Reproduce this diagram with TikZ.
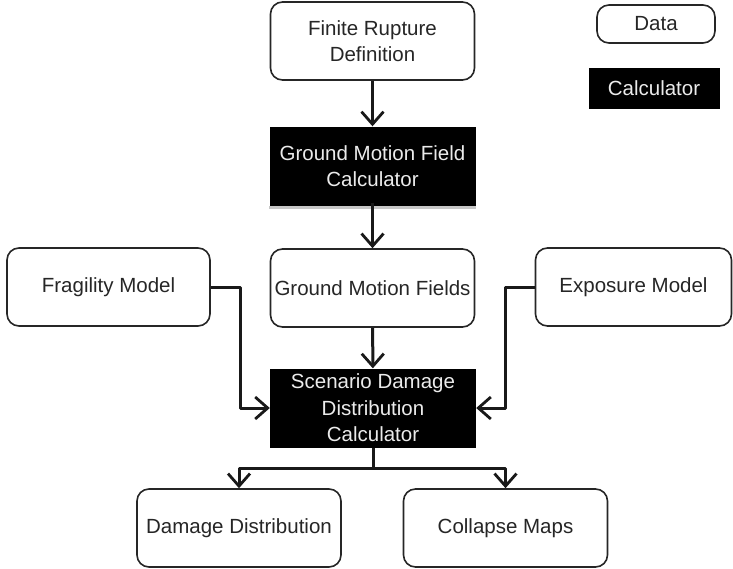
\documentclass[tikz,border=0pt]{standalone}
\usepackage{fontspec}
\setmainfont{Liberation Sans}
\usetikzlibrary{arrows.meta}

\begin{document}
\begin{tikzpicture}[x=1pt, y=-1pt, line join=round,
		every node/.style={font=\fontsize{20.5}{26.5}\selectfont, align=center},
		data/.style={draw=black!85, line width=1.6pt, rounded corners=12pt,
			fill=white, text=black!85, minimum width=204pt, minimum height=78pt},
		calc/.style={fill=black, text=white!92!black, inner sep=0pt,
			minimum width=206pt, minimum height=79pt},
		link/.style={draw=black!90, line width=3pt,
			-{Straight Barb[length=12.5pt, width=22pt, line width=2.8pt]}}]
	\useasboundingbox (0,0) rectangle (733,568);

	% legend
	\node[data, minimum width=118pt, minimum height=38pt] (key data) at (656,24) {Data};
	\node[calc, minimum width=131pt, minimum height=41pt] (key calc) at (654,88) {Calculator};

	% main chain
	\node[data] (rupture) at (372.5,41) {Finite Rupture\\Definition};
	\node[calc] (gmfcalc) at (372.5,166) {Ground Motion Field\\Calculator};
	\fill[black!22] (gmfcalc.south west) rectangle ([yshift=-3pt]gmfcalc.south east);
	\node[data] (gmfields) at (372.5,288) {Ground Motion Fields};
	\node[calc] (sdcalc) at (373,408) {Scenario Damage\\Distribution\\Calculator};

	% side inputs
	\node[data, minimum width=203pt] (fragility) at (108.5,287) {Fragility Model};
	\node[data, minimum width=196pt] (exposure) at (633.5,287) {Exposure Model};

	% outputs
	\node[data] (damage) at (239,528) {Damage Distribution};
	\node[data] (collapse) at (505.5,528) {Collapse Maps};

	\coordinate (fragbend) at (240,287);
	\coordinate (expbend) at (505,287);
	\coordinate (split) at (373,468);

	\draw[link] (rupture) -- (gmfcalc);
	\draw[link] ([yshift=3pt]gmfcalc.south) -- (gmfields);
	\draw[link] (gmfields) -- (sdcalc);
	\draw[link] (fragility.east) -- (fragbend) |- (sdcalc.west);
	\draw[link] (exposure.west) -- (expbend) |- (sdcalc.east);
	\draw[link, -] (sdcalc.south) -- (split);
	\draw[link] (split) -| (damage.north);
	\draw[link] (split) -| (collapse.north);
\end{tikzpicture}
\end{document}
